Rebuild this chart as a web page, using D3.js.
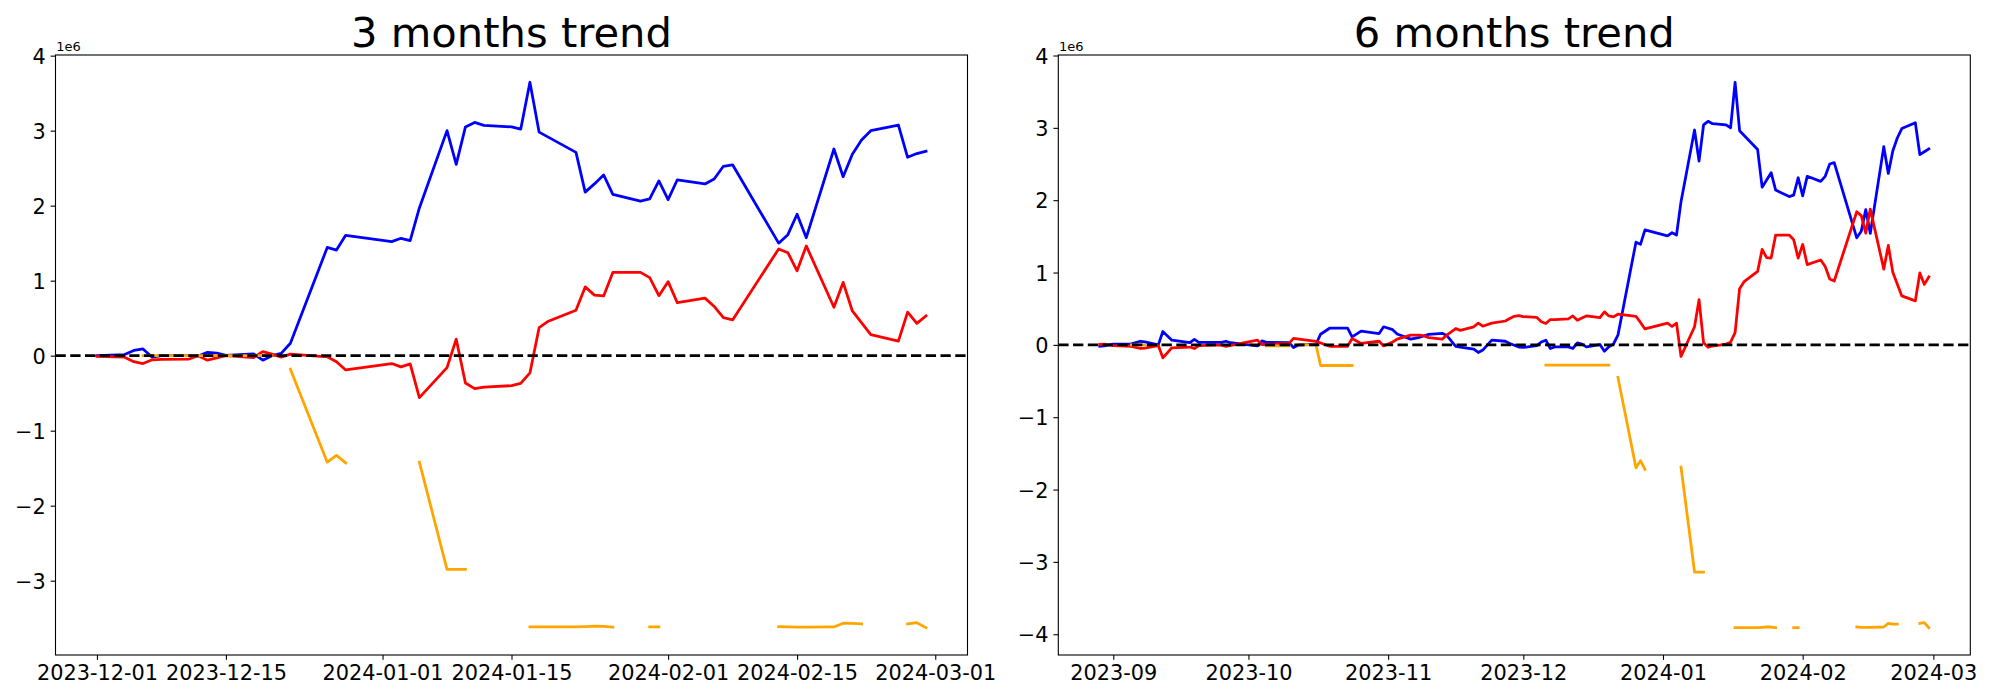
<!DOCTYPE html>
<html><head><meta charset="utf-8">
<script src="https://cdn.jsdelivr.net/npm/d3@7"></script>
<style>
html,body{margin:0;padding:0;background:#fff;}
svg{display:block;font-family:"DejaVu Sans",sans-serif;}
</style></head><body>
<svg id="chart" width="2000" height="700"></svg>
<script>
// ---------------- DATA (values in units of 1e6) ----------------
const titles = ["3 months trend", "6 months trend"];

const blue3m = [["2023-12-01",0.0],["2023-12-04",0.015],["2023-12-05",0.07],["2023-12-06",0.09],["2023-12-07",-0.02],["2023-12-08",0.0],["2023-12-11",0.0],["2023-12-12",-0.005],["2023-12-13",0.045],["2023-12-14",0.035],["2023-12-15",0.005],["2023-12-18",0.025],["2023-12-19",-0.06],["2023-12-20",0.0],["2023-12-21",0.03],["2023-12-22",0.165],["2023-12-26",1.443],["2023-12-27",1.408],["2023-12-28",1.605],["2024-01-02",1.52],["2024-01-03",1.565],["2024-01-04",1.535],["2024-01-05",1.97],["2024-01-08",3.0],["2024-01-09",2.55],["2024-01-10",3.05],["2024-01-11",3.11],["2024-01-12",3.07],["2024-01-15",3.05],["2024-01-16",3.02],["2024-01-17",3.645],["2024-01-18",2.98],["2024-01-22",2.71],["2024-01-23",2.18],["2024-01-24",2.29],["2024-01-25",2.41],["2024-01-26",2.15],["2024-01-29",2.06],["2024-01-30",2.09],["2024-01-31",2.33],["2024-02-01",2.08],["2024-02-02",2.345],["2024-02-05",2.29],["2024-02-06",2.355],["2024-02-07",2.525],["2024-02-08",2.545],["2024-02-13",1.50],["2024-02-14",1.613],["2024-02-15",1.885],["2024-02-16",1.573],["2024-02-19",2.755],["2024-02-20",2.385],["2024-02-21",2.685],["2024-02-22",2.875],["2024-02-23",3.0],["2024-02-26",3.075],["2024-02-27",2.645],["2024-02-28",2.695],["2024-02-29",2.725]];

const red3m = [["2023-12-01",-0.01],["2023-12-04",-0.02],["2023-12-05",-0.08],["2023-12-06",-0.105],["2023-12-07",-0.055],["2023-12-08",-0.05],["2023-12-11",-0.045],["2023-12-12",0.0],["2023-12-13",-0.06],["2023-12-14",-0.03],["2023-12-15",0.0],["2023-12-18",-0.025],["2023-12-19",0.055],["2023-12-20",0.02],["2023-12-21",-0.02],["2023-12-22",0.02],["2023-12-26",-0.015],["2023-12-27",-0.08],["2023-12-28",-0.19],["2024-01-02",-0.105],["2024-01-03",-0.15],["2024-01-04",-0.11],["2024-01-05",-0.56],["2024-01-08",-0.16],["2024-01-09",0.22],["2024-01-10",-0.365],["2024-01-11",-0.44],["2024-01-12",-0.42],["2024-01-15",-0.40],["2024-01-16",-0.37],["2024-01-17",-0.23],["2024-01-18",0.375],["2024-01-19",0.46],["2024-01-22",0.606],["2024-01-23",0.917],["2024-01-24",0.807],["2024-01-25",0.797],["2024-01-26",1.11],["2024-01-29",1.11],["2024-01-30",1.04],["2024-01-31",0.80],["2024-02-01",0.987],["2024-02-02",0.706],["2024-02-05",0.767],["2024-02-06",0.656],["2024-02-07",0.506],["2024-02-08",0.476],["2024-02-13",1.423],["2024-02-14",1.373],["2024-02-15",1.132],["2024-02-16",1.463],["2024-02-19",0.646],["2024-02-20",0.977],["2024-02-21",0.596],["2024-02-23",0.28],["2024-02-26",0.195],["2024-02-27",0.58],["2024-02-28",0.43],["2024-02-29",0.53]];

const orange3m = [["2023-12-06",0],["2023-12-07",0],["2023-12-08",0],["2023-12-11",0],["2023-12-12",0],["2023-12-13",0],["2023-12-14",0],["2023-12-15",0],["2023-12-18",0],["2023-12-19",0],["2023-12-20",0],["2023-12-21",null],["2023-12-22",-0.18],["2023-12-26",-1.42],["2023-12-27",-1.33],["2023-12-28",-1.43],["2024-01-02",null],["2024-01-05",-1.42],["2024-01-08",-2.85],["2024-01-09",-2.85],["2024-01-10",-2.85],["2024-01-11",null],["2024-01-17",-3.617],["2024-01-18",-3.617],["2024-01-19",-3.617],["2024-01-22",-3.617],["2024-01-23",-3.612],["2024-01-24",-3.607],["2024-01-25",-3.61],["2024-01-26",-3.62],["2024-01-29",null],["2024-01-30",-3.617],["2024-01-31",-3.617],["2024-02-01",null],["2024-02-13",-3.612],["2024-02-14",-3.617],["2024-02-15",-3.62],["2024-02-16",-3.62],["2024-02-19",-3.617],["2024-02-20",-3.567],["2024-02-21",-3.57],["2024-02-22",-3.577],["2024-02-23",null],["2024-02-27",-3.577],["2024-02-28",-3.56],["2024-02-29",-3.627]];

const blue6m = [["2023-08-29",-0.02],["2023-08-30",-0.015],["2023-09-01",0.01],["2023-09-05",0.015],["2023-09-07",0.05],["2023-09-08",0.04],["2023-09-11",0.0],["2023-09-12",0.185],["2023-09-14",0.065],["2023-09-18",0.03],["2023-09-19",0.075],["2023-09-20",0.035],["2023-09-25",0.035],["2023-09-26",0.05],["2023-09-27",0.03],["2023-10-03",-0.015],["2023-10-04",0.055],["2023-10-05",0.035],["2023-10-10",0.03],["2023-10-11",-0.036],["2023-10-12",-0.005],["2023-10-16",0.01],["2023-10-17",0.147],["2023-10-19",0.23],["2023-10-23",0.23],["2023-10-24",0.11],["2023-10-26",0.19],["2023-10-30",0.157],["2023-10-31",0.25],["2023-11-02",0.21],["2023-11-03",0.15],["2023-11-06",0.08],["2023-11-08",0.105],["2023-11-10",0.145],["2023-11-13",0.16],["2023-11-14",0.13],["2023-11-16",-0.02],["2023-11-17",-0.03],["2023-11-20",-0.06],["2023-11-21",-0.105],["2023-11-22",-0.072],["2023-11-24",0.065],["2023-11-27",0.05],["2023-11-28",0.02],["2023-11-30",-0.03],["2023-12-01",-0.035],["2023-12-04",-0.01],["2023-12-05",0.04],["2023-12-06",0.065],["2023-12-07",-0.05],["2023-12-08",-0.027],["2023-12-11",-0.027],["2023-12-12",-0.05],["2023-12-13",0.028],["2023-12-14",0.01],["2023-12-15",-0.027],["2023-12-18",0.005],["2023-12-19",-0.087],["2023-12-20",-0.027],["2023-12-21",0.01],["2023-12-22",0.134],["2023-12-26",1.42],["2023-12-27",1.39],["2023-12-28",1.59],["2024-01-02",1.507],["2024-01-03",1.55],["2024-01-04",1.518],["2024-01-05",1.98],["2024-01-08",2.97],["2024-01-09",2.54],["2024-01-10",3.04],["2024-01-11",3.09],["2024-01-12",3.057],["2024-01-15",3.04],["2024-01-16",3.0],["2024-01-17",3.63],["2024-01-18",2.96],["2024-01-22",2.70],["2024-01-23",2.18],["2024-01-24",2.28],["2024-01-25",2.38],["2024-01-26",2.14],["2024-01-29",2.05],["2024-01-30",2.07],["2024-01-31",2.31],["2024-02-01",2.06],["2024-02-02",2.33],["2024-02-05",2.26],["2024-02-06",2.33],["2024-02-07",2.50],["2024-02-08",2.52],["2024-02-13",1.48],["2024-02-14",1.57],["2024-02-15",1.87],["2024-02-16",1.54],["2024-02-19",2.74],["2024-02-20",2.37],["2024-02-21",2.68],["2024-02-22",2.86],["2024-02-23",2.99],["2024-02-26",3.07],["2024-02-27",2.63],["2024-02-28",2.67],["2024-02-29",2.71]];

const red6m = [["2023-08-29",0.005],["2023-08-30",0.01],["2023-09-01",-0.01],["2023-09-05",-0.02],["2023-09-07",-0.05],["2023-09-08",-0.045],["2023-09-11",-0.01],["2023-09-12",-0.18],["2023-09-14",-0.04],["2023-09-18",-0.03],["2023-09-19",-0.05],["2023-09-20",-0.01],["2023-09-25",0.0],["2023-09-26",-0.02],["2023-10-03",0.065],["2023-10-04",0.005],["2023-10-10",0.02],["2023-10-11",0.09],["2023-10-16",0.05],["2023-10-19",-0.02],["2023-10-23",-0.02],["2023-10-24",0.087],["2023-10-26",0.02],["2023-10-30",0.05],["2023-10-31",-0.015],["2023-11-02",0.04],["2023-11-03",0.08],["2023-11-06",0.134],["2023-11-08",0.134],["2023-11-09",0.124],["2023-11-10",0.1],["2023-11-13",0.08],["2023-11-14",0.134],["2023-11-16",0.226],["2023-11-17",0.2],["2023-11-20",0.25],["2023-11-21",0.30],["2023-11-22",0.258],["2023-11-24",0.30],["2023-11-27",0.33],["2023-11-28",0.364],["2023-11-29",0.395],["2023-11-30",0.405],["2023-12-01",0.39],["2023-12-04",0.38],["2023-12-05",0.32],["2023-12-06",0.295],["2023-12-07",0.35],["2023-12-08",0.35],["2023-12-11",0.36],["2023-12-12",0.40],["2023-12-13",0.34],["2023-12-14",0.37],["2023-12-15",0.40],["2023-12-18",0.378],["2023-12-19",0.456],["2023-12-20",0.40],["2023-12-21",0.387],["2023-12-22",0.424],["2023-12-26",0.395],["2023-12-27",0.31],["2023-12-28",0.22],["2024-01-02",0.30],["2024-01-03",0.254],["2024-01-04",0.30],["2024-01-05",-0.16],["2024-01-08",0.25],["2024-01-09",0.624],["2024-01-10",0.03],["2024-01-11",-0.033],["2024-01-12",-0.016],["2024-01-15",0.01],["2024-01-16",0.037],["2024-01-17",0.17],["2024-01-18",0.777],["2024-01-19",0.873],["2024-01-22",1.015],["2024-01-23",1.32],["2024-01-24",1.206],["2024-01-25",1.20],["2024-01-26",1.518],["2024-01-29",1.518],["2024-01-30",1.454],["2024-01-31",1.20],["2024-02-01",1.39],["2024-02-02",1.11],["2024-02-05",1.174],["2024-02-06",1.084],["2024-02-07",0.91],["2024-02-08",0.883],["2024-02-13",1.84],["2024-02-14",1.787],["2024-02-15",1.544],["2024-02-16",1.877],["2024-02-19",1.047],["2024-02-20",1.375],["2024-02-21",1.005],["2024-02-23",0.677],["2024-02-26",0.608],["2024-02-27",0.994],["2024-02-28",0.836],["2024-02-29",0.94]];

const orange6m = [["2023-09-05",0],["2023-09-06",0],["2023-09-07",0],["2023-09-08",0],["2023-09-11",null],["2023-10-05",-0.015],["2023-10-06",-0.015],["2023-10-09",-0.015],["2023-10-10",-0.015],["2023-10-11",null],["2023-10-12",0],["2023-10-13",0],["2023-10-16",0],["2023-10-17",-0.285],["2023-10-18",-0.285],["2023-10-19",-0.285],["2023-10-20",-0.285],["2023-10-23",-0.285],["2023-10-24",-0.285],["2023-10-25",null],["2023-12-06",-0.28],["2023-12-07",-0.28],["2023-12-08",-0.28],["2023-12-11",-0.28],["2023-12-12",-0.28],["2023-12-13",-0.28],["2023-12-14",-0.28],["2023-12-15",-0.28],["2023-12-18",-0.28],["2023-12-19",-0.28],["2023-12-20",-0.28],["2023-12-21",null],["2023-12-22",-0.45],["2023-12-26",-1.70],["2023-12-27",-1.60],["2023-12-28",-1.72],["2024-01-02",null],["2024-01-05",-1.69],["2024-01-08",-3.14],["2024-01-09",-3.14],["2024-01-10",-3.14],["2024-01-11",null],["2024-01-17",-3.91],["2024-01-18",-3.91],["2024-01-19",-3.91],["2024-01-22",-3.91],["2024-01-23",-3.905],["2024-01-24",-3.90],["2024-01-25",-3.90],["2024-01-26",-3.91],["2024-01-29",null],["2024-01-30",-3.91],["2024-01-31",-3.91],["2024-02-01",null],["2024-02-13",-3.90],["2024-02-14",-3.905],["2024-02-15",-3.905],["2024-02-16",-3.905],["2024-02-19",-3.90],["2024-02-20",-3.85],["2024-02-21",-3.86],["2024-02-22",-3.86],["2024-02-23",null],["2024-02-27",-3.85],["2024-02-28",-3.84],["2024-02-29",-3.91]];

const xTicks3m = ["2023-12-01","2023-12-15","2024-01-01","2024-01-15","2024-02-01","2024-02-15","2024-03-01"];
const xLabels3m = ["2023-12-01","2023-12-15","2024-01-01","2024-01-15","2024-02-01","2024-02-15","2024-03-01"];
const xTicks6m = ["2023-09-01","2023-10-01","2023-11-01","2023-12-01","2024-01-01","2024-02-01","2024-03-01"];
const xLabels6m = ["2023-09","2023-10","2023-11","2023-12","2024-01","2024-02","2024-03"];
const yTicks3m = [-3,-2,-1,0,1,2,3,4];
const yLabels3m = ["\u22123","\u22122","\u22121","0","1","2","3","4"];
const yTicks6m = [-4,-3,-2,-1,0,1,2,3,4];
const yLabels6m = ["\u22124","\u22123","\u22122","\u22121","0","1","2","3","4"];
const offsetLabel = "1e6";
const seriesColors = ["blue","red","orange"];

// ---------------- DRAWING ----------------
const parse = d3.utcParse("%Y-%m-%d");
const svg = d3.select("#chart");
const TOP = 55, BOTTOM = 655;
const panels = [
  {title: titles[0], series: [blue3m, red3m, orange3m], xTicks: xTicks3m, xLabels: xLabels3m, yTicks: yTicks3m, yLabels: yLabels3m, x0: 55.5, x1: 967.5},
  {title: titles[1], series: [blue6m, red6m, orange6m], xTicks: xTicks6m, xLabels: xLabels6m, yTicks: yTicks6m, yLabels: yLabels6m, x0: 1058.3, x1: 1970.3}
];
const tickLen = 4.86, tickPad = 4.86;

panels.forEach((p, i) => {
  const all = p.series.flat().filter(d => d[1] !== null);
  const tExt = d3.extent(all, d => parse(d[0]).getTime());
  const vExt = d3.extent(all, d => d[1]);
  const tPad = (tExt[1] - tExt[0]) * 0.05, vPad = (vExt[1] - vExt[0]) * 0.05;
  const x = d3.scaleUtc().domain([new Date(tExt[0] - tPad), new Date(tExt[1] + tPad)]).range([p.x0, p.x1]);
  const y = d3.scaleLinear().domain([vExt[0] - vPad, vExt[1] + vPad]).range([BOTTOM, TOP]);

  const clipId = "clip" + i;
  svg.append("clipPath").attr("id", clipId).append("rect")
    .attr("x", p.x0).attr("y", TOP).attr("width", p.x1 - p.x0).attr("height", BOTTOM - TOP);

  const g = svg.append("g");
  const plot = g.append("g").attr("clip-path", `url(#${clipId})`);
  const line = d3.line().defined(d => d[1] !== null)
    .x(d => x(parse(d[0]))).y(d => y(d[1]));

  p.series.forEach((s, k) => {
    plot.append("path").datum(s).attr("d", line)
      .attr("fill", "none").attr("stroke", seriesColors[k])
      .attr("stroke-width", 2.78).attr("stroke-linejoin", "round").attr("stroke-linecap", "square");
  });

  // zero reference line
  plot.append("line").attr("x1", p.x0).attr("x2", p.x1).attr("y1", y(0)).attr("y2", y(0))
    .attr("stroke", "black").attr("stroke-width", 2.78).attr("stroke-dasharray", "10.3 4.45");

  // axes
  const xAxis = d3.axisBottom(x).tickValues(p.xTicks.map(parse))
    .tickFormat((d, j) => p.xLabels[j]).tickSize(tickLen).tickPadding(tickPad).tickSizeOuter(0);
  const gx = g.append("g").attr("transform", `translate(0,${BOTTOM})`).call(xAxis);
  const yAxis = d3.axisLeft(y).tickValues(p.yTicks)
    .tickFormat((d, j) => p.yLabels[j]).tickSize(tickLen).tickPadding(tickPad).tickSizeOuter(0);
  const gy = g.append("g").attr("transform", `translate(${p.x0},0)`).call(yAxis);
  [gx, gy].forEach(a => {
    a.select(".domain").remove();
    a.selectAll(".tick line").attr("stroke", "black").attr("stroke-width", 1.1);
    a.selectAll(".tick text").attr("fill", "black")
      .style("font-family", "'DejaVu Sans', sans-serif").style("font-size", "20.83px");
  });
  gy.selectAll(".tick text").attr("dy", "0.36em");

  // frame
  g.append("rect").attr("x", p.x0).attr("y", TOP).attr("width", p.x1 - p.x0).attr("height", BOTTOM - TOP)
    .attr("fill", "none").attr("stroke", "black").attr("stroke-width", 1.1);

  // title and offset text
  g.append("text").attr("x", (p.x0 + p.x1) / 2).attr("y", 46.7).attr("text-anchor", "middle")
    .style("font-size", "41.67px").attr("fill", "black").text(p.title);
  g.append("text").attr("x", p.x0 + 0.8).attr("y", 51).style("font-size", "13px")
    .attr("fill", "black").text(offsetLabel);
});
</script>
</body></html>
